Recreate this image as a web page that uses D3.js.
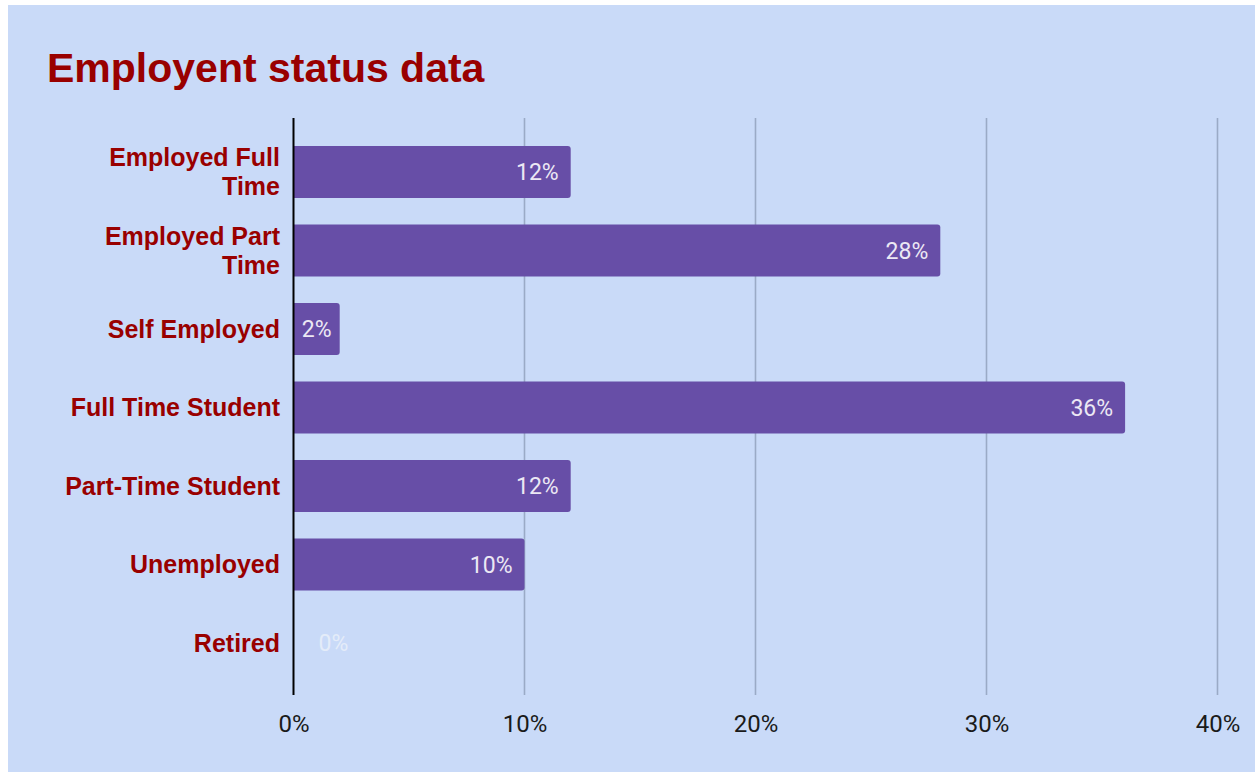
<!DOCTYPE html>
<html>
<head>
<meta charset="utf-8">
<script src="https://cdn.jsdelivr.net/npm/d3@7/dist/d3.min.js"></script>
<style>
  html, body { margin: 0; padding: 0; background: #ffffff; }
  svg { display: block; }
</style>
</head>
<body>
<svg id="chart" width="1255" height="772"></svg>
<script>
// Employment status breakdown, in percent
const categories = [
  "Employed Full Time",
  "Employed Part Time",
  "Self Employed",
  "Full Time Student",
  "Part-Time Student",
  "Unemployed",
  "Retired"
];
const values = [12, 28, 2, 36, 12, 10, 0];
const xTicks = [0, 10, 20, 30, 40];
const title = "Employent status data";

const W = 1255, H = 772;
const svg = d3.select("#chart");

// panel background
svg.append("rect")
  .attr("x", 8).attr("y", 5)
  .attr("width", W - 8).attr("height", H - 5)
  .attr("fill", "#c9daf8");

svg.append("text")
  .attr("x", 47).attr("y", 82)
  .attr("font-family", "'Liberation Sans', Arial, sans-serif")
  .attr("font-weight", "bold")
  .attr("font-size", 41)
  .attr("fill", "#990000")
  .text(title);

const plot = { left: 293.5, right: 1217.5, top: 118, bottom: 695 };

const x = d3.scaleLinear().domain([0, 40]).range([plot.left, plot.right]);
const y = d3.scaleBand()
  .domain(categories)
  .range([plot.top + 1, plot.bottom + 1])
  .paddingInner(0.3376)
  .paddingOuter(0.344);

// vertical gridlines
svg.append("g")
  .selectAll("line")
  .data(xTicks.filter(t => t > 0))
  .join("line")
  .attr("x1", d => x(d)).attr("x2", d => x(d))
  .attr("y1", plot.top).attr("y2", plot.bottom)
  .attr("stroke", "#9aaac6")
  .attr("stroke-width", 1.6);

// x axis tick labels
const xAxis = d3.axisBottom(x)
  .tickValues(xTicks)
  .tickFormat(d => d + "%")
  .tickSize(0)
  .tickPadding(0);
const gx = svg.append("g")
  .attr("transform", `translate(0,${plot.bottom + 28})`)
  .call(xAxis);
gx.select(".domain").remove();
gx.selectAll("text")
  .attr("font-family", "Roboto, sans-serif")
  .attr("font-size", 24)
  .attr("fill", "#1a1a1a")
  .attr("dy", "0.36em");

// bars: square at the baseline, rounded at the value end
const r = 3;
function barPath(d, i) {
  const x0 = x(0), x1 = x(d);
  const y0 = y(categories[i]), h = y.bandwidth();
  if (x1 - x0 <= 0) return "";
  const rr = Math.min(r, (x1 - x0) / 2);
  return `M${x0},${y0}H${x1 - rr}Q${x1},${y0} ${x1},${y0 + rr}` +
         `V${y0 + h - rr}Q${x1},${y0 + h} ${x1 - rr},${y0 + h}H${x0}Z`;
}
svg.append("g")
  .selectAll("path")
  .data(values)
  .join("path")
  .attr("d", barPath)
  .attr("fill", "#674ea7");

// value labels on bars
const lbl = svg.append("g")
  .selectAll("text")
  .data(values)
  .join("text")
  .attr("y", (d, i) => y(categories[i]) + y.bandwidth() / 2)
  .attr("dy", "0.36em")
  .attr("font-family", "Roboto, sans-serif")
  .attr("font-size", 23)
  .attr("fill", d => d > 0 ? "#ece8f4" : "#e4ecf9")
  .text(d => d + "%");

lbl.each(function(d) {
  const t = d3.select(this);
  const tw = this.getComputedTextLength();
  const barW = x(d) - x(0);
  if (d === 0) {
    t.attr("x", x(0) + 25).attr("text-anchor", "start");
  } else if (barW >= tw + 24) {
    t.attr("x", x(d) - 12).attr("text-anchor", "end");
  } else {
    t.attr("x", x(0) + barW / 2).attr("text-anchor", "middle");
  }
});

// category labels, wrapped to two lines when long
const maxLabelW = 215;
const catG = svg.append("g");
categories.forEach(cat => {
  const cy = y(cat) + y.bandwidth() / 2;
  const t = catG.append("text")
    .attr("x", 280)
    .attr("text-anchor", "end")
    .attr("font-family", "'Liberation Sans', Arial, sans-serif")
    .attr("font-weight", "bold")
    .attr("font-size", 25)
    .attr("fill", "#990000");
  t.text(cat);
  if (t.node().getComputedTextLength() <= maxLabelW) {
    t.attr("y", cy).attr("dy", "0.35em");
    return;
  }
  const words = cat.split(" ");
  const line2 = words.pop();
  const line1 = words.join(" ");
  t.text(null);
  const lh = 29;
  t.append("tspan").attr("x", 280).attr("y", cy - lh / 2).attr("dy", "0.35em").text(line1);
  t.append("tspan").attr("x", 280).attr("y", cy + lh / 2).attr("dy", "0.35em").text(line2);
});

// zero baseline
svg.append("line")
  .attr("x1", x(0)).attr("x2", x(0))
  .attr("y1", plot.top).attr("y2", plot.bottom)
  .attr("stroke", "#000000")
  .attr("stroke-width", 2);
</script>
</body>
</html>
